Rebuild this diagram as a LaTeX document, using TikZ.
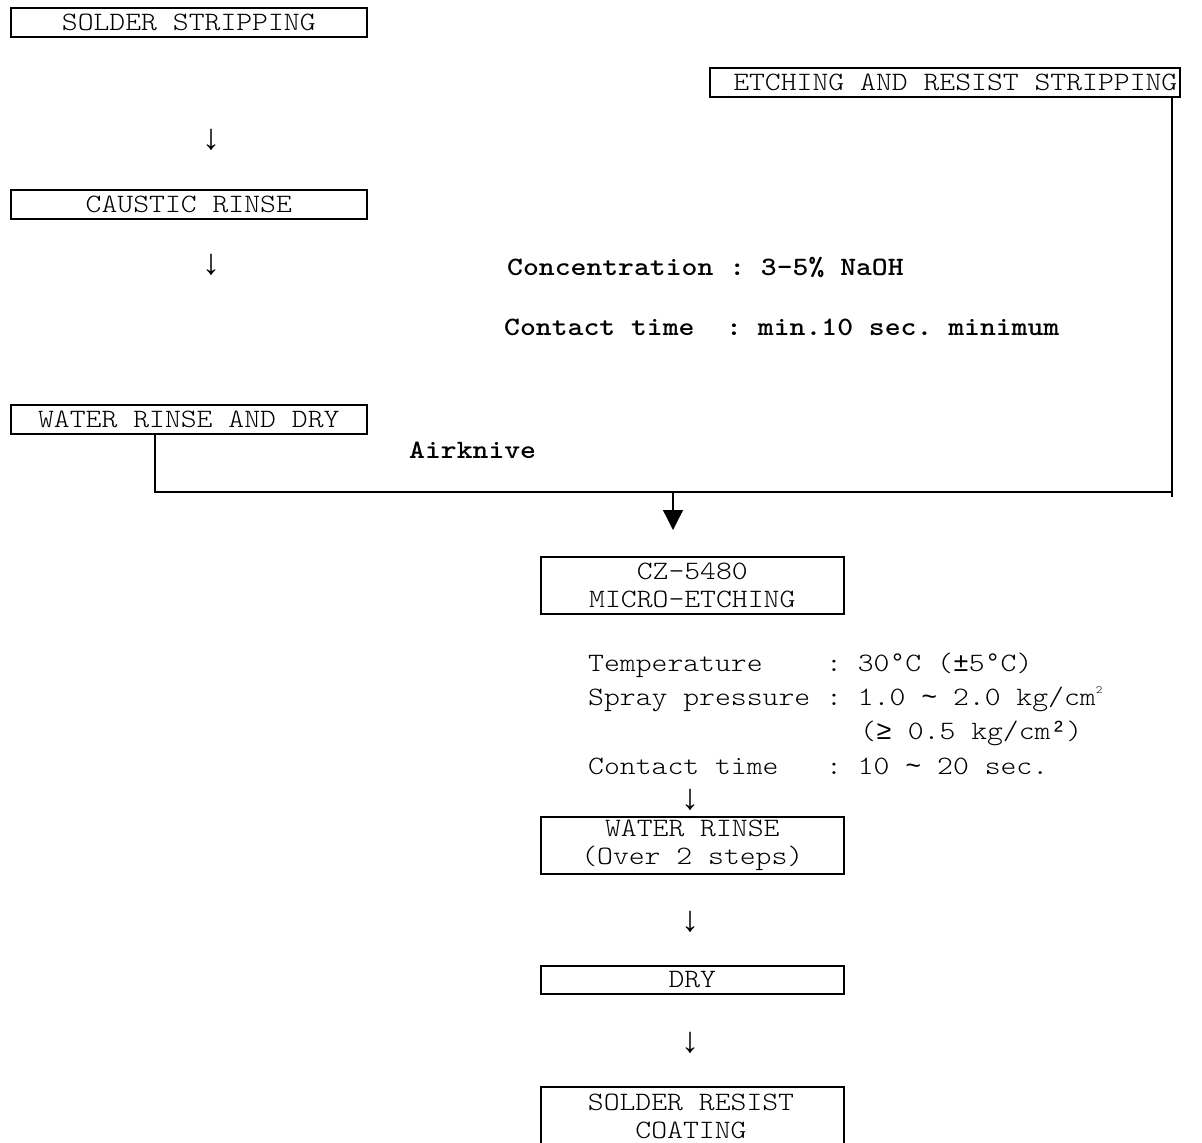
\documentclass[tikz,border=0pt]{standalone}
\usepackage{fontspec}
\setmainfont{Latin Modern Mono Light}[FakeStretch=1.14, WordSpace={1,0,0}]
\newfontfamily\arrowfont{Liberation Serif}
\newfontfamily\symfont{Liberation Mono}
\usetikzlibrary{arrows.meta}
\newcommand{\fs}{\fontsize{26.5}{28}\selectfont}
\newcommand{\tld}{{\symfont\char"007E}}
\newcommand{\dg}{{\symfont °}}
\begin{document}
\frenchspacing
\begin{tikzpicture}[x=1pt,y=-1pt,
  box/.style={draw, line width=1.6pt, inner sep=0pt, anchor=north west, align=center, font=\fs},
  txt/.style={anchor=west, inner sep=0pt, font=\fs},
  btxt/.style={anchor=west, inner sep=0pt, font=\fs\bfseries},
  darr/.style={inner sep=0pt, font=\arrowfont\fontsize{36}{38}\selectfont},
  conn/.style={line width=1.3pt}]
\clip (0,0) rectangle (1202,1143);
% boxes
\node[box, minimum width=356, minimum height=29] (ss) at (10,7) {SOLDER STRIPPING};
\node[box, minimum width=470, minimum height=29] (etch) at (709,67) {\hspace*{21pt}ETCHING AND RESIST STRIPPING};
\node[box, minimum width=356, minimum height=29] (cr) at (10,189) {CAUSTIC RINSE};
\node[box, minimum width=356, minimum height=29] (wrd) at (10,404) {WATER RINSE AND DRY};
\node[box, minimum width=303, minimum height=57] (cz) at (540,556) {CZ-5480\\MICRO-ETCHING};
\node[box, minimum width=303, minimum height=57] (wr) at (540,816) {WATER RINSE\\(Over 2 steps)};
\node[box, minimum width=303, minimum height=28] (dry) at (540,965) {DRY};
\node[box, minimum width=303, minimum height=70, anchor=north west] (src) at (540,1086) {};
\node[font=\fs, inner sep=0pt] (srct1) at (691,1102) {SOLDER RESIST};
\node[font=\fs, inner sep=0pt] (srct2) at (691,1130) {COATING};
% down arrows (text glyphs)
\node[darr] (a1) at (211,140) {↓};
\node[darr] (a2) at (211,265) {↓};
\node[darr] (a3) at (690,800) {↓};
\node[darr] (a4) at (690,922) {↓};
\node[darr] (a5) at (690,1043) {↓};
% bold notes
\node[btxt] (conc) at (507,267) {Concentration : 3-5\% NaOH};
\node[btxt] (ctime) at (504,327) {Contact time\ \ : min.10 sec. minimum};
\node[btxt] (air) at (409,450) {Airknive};
% spec lines
\node[txt] (t1) at (588,665) {Temperature\ \ \ \ : 30\dg C ({\symfont ±}5\dg C)};
\node[txt] (t2) at (588,699) {Spray pressure : 1.0 \tld{} 2.0 kg/cm\raisebox{0.45em}{\fontsize{11}{12}\selectfont 2}};
\node[txt] (t3) at (860,733) {({\symfont ≥} 0.5 kg/cm{\symfont ²})};
\node[txt] (t4) at (588,766) {Contact time\ \ \ : 10 \tld{} 20 sec.};
% connectors
\coordinate (jl) at (155,492);
\coordinate (jr) at (1172,492);
\coordinate (jm) at (673,492);
\coordinate (tip) at (673,530);
\draw[conn] (wrd.south -| jl) -- (jl) -- (jr) -- (etch.south -| jr);
\draw[conn] (jr) -- ++(0,5);
\draw[conn, -{Triangle[width=20pt,length=20pt]}] (jm) -- (tip);
\end{tikzpicture}
\end{document}
